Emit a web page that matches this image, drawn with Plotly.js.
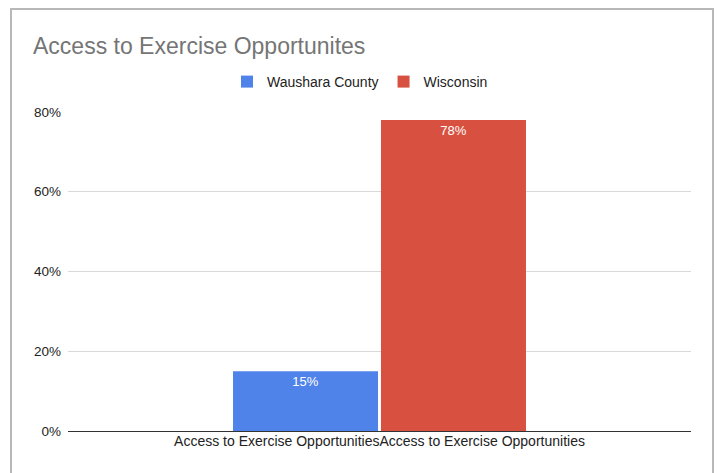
<!DOCTYPE html>
<html>
<head>
<meta charset="utf-8">
<script src="https://cdn.plot.ly/plotly-3.0.1.min.js"></script>
<style>
  html, body { margin: 0; padding: 0; background: #fff; }
  #chart { width: 717px; height: 473px; }
</style>
</head>
<body>
<div id="chart"></div>
<script>
const categories = ["Access to Exercise Opportunities"];
const seriesNames = ["Waushara County", "Wisconsin"];
const waushara = [0.15];
const wisconsin = [0.78];
const barLabels = [["15%"], ["78%"]];
const yTickVals = [0, 0.2, 0.4, 0.6, 0.8];
const yTickText = ["0%", "20%", "40%", "60%", "80%"];
const xTickText = [categories[0] + categories[0]];

const colors = ["#5083e9", "#d85140"];
const values = [waushara, wisconsin];

const traces = seriesNames.map((name, i) => ({
  type: "bar",
  name: name,
  x: categories,
  y: values[i],
  text: barLabels[i],
  textposition: "inside",
  insidetextanchor: "end",
  textangle: 0,
  textfont: { color: "#ffffff", size: 13, family: "Arial, Liberation Sans, sans-serif" },
  marker: { color: colors[i], line: { width: 0 } },
  hoverinfo: "none",
  cliponaxis: false
}));

const L = 68, R = 691, T = 112, B = 431;
const pw = R - L, ph = B - T;

const layout = {
  width: 717,
  height: 473,
  margin: { l: L, r: 717 - R, t: T, b: 473 - B, pad: 0 },
  paper_bgcolor: "#ffffff",
  plot_bgcolor: "#ffffff",
  font: { family: "Arial, Liberation Sans, sans-serif", color: "#222222", size: 14 },
  title: {
    text: "Access to Exercise Opportunites",
    font: { size: 23, color: "#757575", family: "Arial, Liberation Sans, sans-serif" },
    xref: "container", x: 33 / 717, xanchor: "left",
    yref: "container", y: 1 - 46 / 473, yanchor: "middle"
  },
  showlegend: true,
  legend: {
    orientation: "h",
    xref: "container", x: 360 / 717, xanchor: "center",
    yref: "container", y: 1 - 82 / 473, yanchor: "middle",
    font: { size: 14, color: "#222222" },
    itemsizing: "constant",
    itemwidth: 30,
    traceorder: "normal"
  },
  barmode: "group",
  bargap: 0.525,
  bargroupgap: 0.02,
  xaxis: {
    type: "category",
    range: [-0.5, 0.5],
    tickvals: categories,
    ticktext: xTickText,
    showgrid: false,
    zeroline: false,
    showline: false,
    ticks: "",
    tickfont: { size: 14, color: "#222222" },
    fixedrange: true
  },
  yaxis: {
    range: [0, 0.8],
    tickvals: yTickVals,
    ticktext: yTickText,
    showgrid: true,
    gridcolor: "#d9d9d9",
    gridwidth: 1,
    zeroline: true,
    zerolinecolor: "#333333",
    zerolinewidth: 1,
    showline: false,
    ticks: "",
    ticklabelstandoff: 6,
    tickfont: { size: 13.5, color: "#222222" },
    fixedrange: true
  },
  shapes: [{
    type: "rect",
    xref: "paper", yref: "paper",
    x0: (11 - L) / pw, x1: (713 - L) / pw,
    y0: (B - 490) / ph, y1: (B - 9) / ph,
    line: { color: "#b8b8b8", width: 2 },
    fillcolor: "rgba(0,0,0,0)",
    layer: "below"
  }]
};

Plotly.newPlot("chart", traces, layout, { staticPlot: true, displayModeBar: false });
</script>
</body>
</html>
